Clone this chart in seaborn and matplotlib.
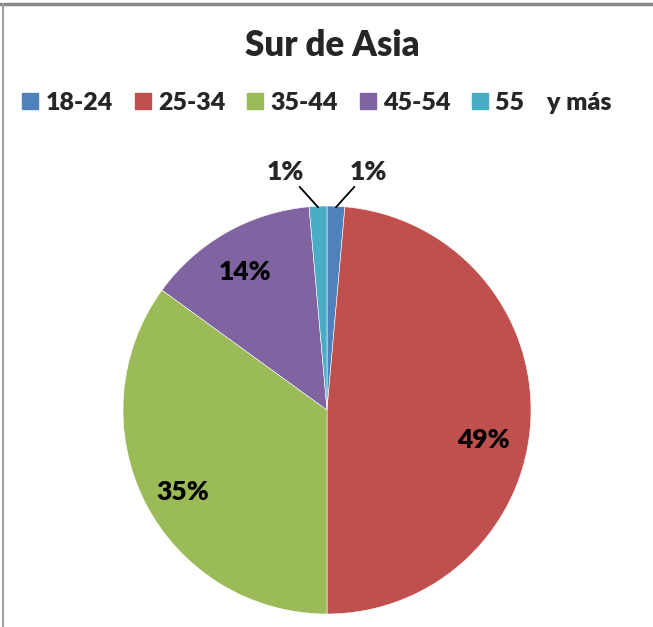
import matplotlib
matplotlib.use("Agg")
import matplotlib.pyplot as plt
import seaborn as sns
import numpy as np
from matplotlib.lines import Line2D

# Datos
grupos = ["18-24", "25-34", "35-44", "45-54", "55    y más"]
porcentajes = [1.4, 48.6, 35.0, 13.6, 1.4]
colores = ["#4F81BD", "#C0504D", "#9BBB59", "#8064A2", "#4BACC6"]

sns.set_theme(style="white")
plt.rcParams["font.family"] = ["Lato", "DejaVu Sans"]

fig = plt.figure(figsize=(6.53, 6.27), dpi=100)
ax = fig.add_axes([123 / 653, 13 / 627, 408 / 653, 408 / 627])

wedges, textos, autotextos = ax.pie(
    porcentajes, colors=colores, startangle=90, counterclock=False,
    autopct="%.0f%%", pctdistance=0.79,
    wedgeprops=dict(edgecolor="white", linewidth=0.4),
    textprops=dict(fontsize=19, fontweight="heavy", color="black"),
)
ax.set_xlim(-1, 1)
ax.set_ylim(-1, 1)
ax.set_aspect("equal")
ax.axis("off")

# Etiquetas de los sectores pequeños con líneas guía
for w, t, lado in zip(wedges, autotextos, [1, 0, 0, 0, -1]):
    if lado == 0:
        continue
    t.set_visible(False)
    ang = np.deg2rad((w.theta1 + w.theta2) / 2)
    x0, y0 = np.cos(ang), np.sin(ang)
    ax.annotate(t.get_text(), xy=(x0, y0 * 0.995),
                xytext=(lado * 0.11, 1.11),
                ha="left" if lado > 0 else "right", va="bottom",
                fontsize=19, fontweight="heavy",
                arrowprops=dict(arrowstyle="-", color="black", lw=1.3,
                                shrinkA=0, shrinkB=0))

# Ajuste de las etiquetas grandes (posición tipo Excel)
autotextos[1].set_position((0.765, -0.147))
autotextos[2].set_position((-0.706, -0.40))
autotextos[3].set_position((-0.40, 0.676))

fig.text(332 / 653, 1 - 45 / 627, "Sur de Asia", ha="center", va="center",
         fontsize=25, fontweight="heavy")

handles = [Line2D([], [], marker="s", linestyle="", markersize=12,
                  markerfacecolor=c, markeredgecolor=c) for c in colores]
fig.legend(handles, grupos, loc="center", bbox_to_anchor=(0.486, 1 - 103 / 627),
           ncol=5, frameon=False, handlelength=0.6, handletextpad=0.3,
           columnspacing=0.9, borderaxespad=0, borderpad=0,
           prop=dict(size=18, weight="heavy"))

# Marco parcial gris
fig.add_artist(Line2D([0, 1], [1 - 4 / 627, 1 - 4 / 627], color="#868686", lw=2.5,
                      transform=fig.transFigure))
fig.add_artist(Line2D([3 / 653, 3 / 653], [0, 1 - 4 / 627], color="#A0A0A0", lw=1.5,
                      transform=fig.transFigure))

fig.savefig("out.png", dpi=100)
